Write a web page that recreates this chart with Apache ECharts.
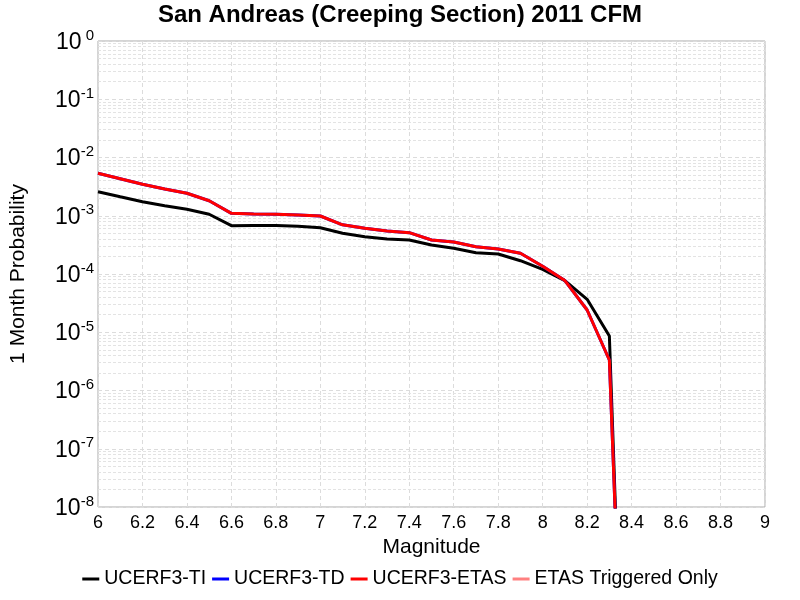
<!DOCTYPE html>
<html>
<head>
<meta charset="utf-8">
<script src="https://cdn.jsdelivr.net/npm/echarts@6/dist/echarts.min.js"></script>
<style>html,body{margin:0;padding:0;background:#fff}#c{width:800px;height:600px}</style>
</head>
<body>
<div id="c"></div>
<script>
var magnitudes = [6.0,6.1,6.2,6.3,6.4,6.5,6.6,6.7,6.8,6.9,7.0,7.1,7.2,7.3,7.4,7.5,7.6,7.7,7.8,7.9,8.0,8.1,8.2,8.3,8.35];
var tiValues = [2.59e-3,2.12e-3,1.74e-3,1.49e-3,1.29e-3,1.06e-3,6.75e-4,6.8e-4,6.8e-4,6.59e-4,6.23e-4,5.0e-4,4.37e-4,3.99e-4,3.83e-4,3.15e-4,2.76e-4,2.32e-4,2.20e-4,1.69e-4,1.20e-4,7.7e-5,3.68e-5,8.6e-6,3.4e-11];
var tdValues = [5.35e-3,4.32e-3,3.47e-3,2.88e-3,2.43e-3,1.81e-3,1.10e-3,1.07e-3,1.06e-3,1.03e-3,9.9e-4,7.0e-4,6.1e-4,5.47e-4,5.12e-4,3.83e-4,3.54e-4,2.94e-4,2.69e-4,2.27e-4,1.36e-4,7.7e-5,2.41e-5,3.34e-6,3.4e-11];
var etasValues = [5.35e-3,4.32e-3,3.47e-3,2.88e-3,2.43e-3,1.81e-3,1.10e-3,1.07e-3,1.06e-3,1.03e-3,9.9e-4,7.0e-4,6.1e-4,5.47e-4,5.12e-4,3.83e-4,3.54e-4,2.94e-4,2.69e-4,2.27e-4,1.36e-4,7.7e-5,2.41e-5,3.34e-6,3.4e-11];
var triggeredValues = [];
var seriesNames = ['UCERF3-TI','UCERF3-TD','UCERF3-ETAS','ETAS Triggered Only'];
var seriesColors = ['#000000','#0000ff','#ff0000','#ff8080'];
var xMin = 6, xMax = 9;

function pairs(vals){ return vals.map(function(v,i){ return [magnitudes[i], v]; }); }

var minorLines = [];
for (var e = -8; e < 0; e++) {
  for (var m = 2; m <= 9; m++) {
    var v = m * Math.pow(10, e);
    minorLines.push([{coord: [xMin, v]}, {coord: [xMax, v]}]);
  }
}

var FONT = 'Liberation Sans';
var chart = echarts.init(document.getElementById('c'));
var allData = [tiValues, tdValues, etasValues, triggeredValues];
var series = seriesNames.map(function(n, i){
  return {
    name: n, type: 'line', data: pairs(allData[i]), showSymbol: false, symbol: 'none',
    lineStyle: {color: seriesColors[i], width: 3}, itemStyle: {color: seriesColors[i]},
    clip: true, animation: false, z: 3 + i
  };
});
series[0].markLine = {
  silent: true, symbol: 'none', label: {show: false}, animation: false, precision: 20,
  lineStyle: {color: '#e3e3e3', type: [3, 2], width: 1}, data: minorLines, z: 1
};

chart.setOption({
  animation: false,
  backgroundColor: '#fff',
  textStyle: {fontFamily: FONT},
  title: {
    text: 'San Andreas (Creeping Section) 2011 CFM', left: 'center', top: -2,
    textStyle: {fontFamily: FONT, fontSize: 24, fontWeight: 'bold', color: '#000'}
  },
  grid: {left: 95, right: 35, top: 41, bottom: 93, show: true, borderColor: '#aaaaaa', borderWidth: 1},
  legend: {
    bottom: 6, left: 'center', itemWidth: 17, itemHeight: 3, itemGap: 6, icon: 'rect',
    textStyle: {fontFamily: FONT, fontSize: 19.5, color: '#000'},
    data: seriesNames
  },
  xAxis: {
    type: 'value', min: xMin, max: xMax, interval: 0.2,
    name: 'Magnitude', nameLocation: 'middle', nameGap: 30,
    nameTextStyle: {fontFamily: FONT, fontSize: 21, color: '#000'},
    axisLine: {show: false}, axisTick: {show: false},
    axisLabel: {fontFamily: FONT, fontSize: 18, color: '#000', margin: 7,
      formatter: function(v){ return String(Math.round(v*10)/10); }},
    splitLine: {show: true, lineStyle: {color: '#dcdcdc', type: [4, 3], width: 1}}
  },
  yAxis: {
    type: 'log', logBase: 10, min: 1e-8, max: 1,
    name: '1 Month Probability', nameLocation: 'middle', nameGap: 69,
    nameTextStyle: {fontFamily: FONT, fontSize: 21, color: '#000'},
    axisLine: {show: false}, axisTick: {show: false},
    axisLabel: {
      margin: 4, color: '#000',
      formatter: function(v){
        var e = Math.round(Math.log10(v));
        return '{b|10}{s|' + (e === 0 ? ' 0' : e) + '}';
      },
      rich: {
        b: {fontFamily: FONT, fontSize: 23, color: '#000', lineHeight: 26, verticalAlign: 'bottom'},
        s: {fontFamily: FONT, fontSize: 15, color: '#000', lineHeight: 26, verticalAlign: 'top', padding: [0,0,12,0]}
      }
    },
    splitLine: {show: true, lineStyle: {color: '#dcdcdc', type: [4, 3], width: 1}}
  },
  series: series
});
</script>
</body>
</html>
